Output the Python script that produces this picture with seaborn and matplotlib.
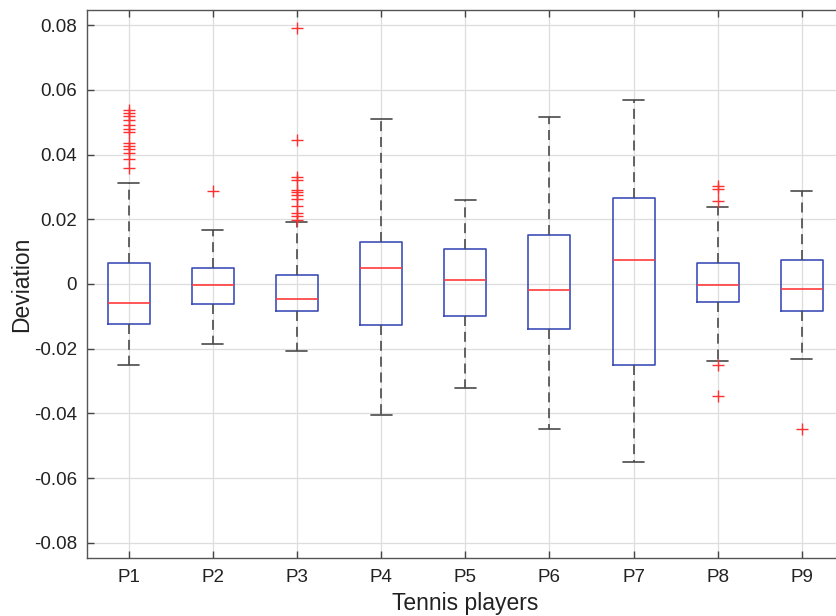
import matplotlib
matplotlib.use("Agg")
import matplotlib.pyplot as plt
import seaborn as sns
from matplotlib.ticker import FuncFormatter, FixedLocator

# ---------------- data ----------------
players = ["P1", "P2", "P3", "P4", "P5", "P6", "P7", "P8", "P9"]
q1 = [-0.0123, -0.0062, -0.0082, -0.0126, -0.0100, -0.0140, -0.0250, -0.0056, -0.0082]
median = [-0.0060, -0.0003, -0.0046, 0.0048, 0.0012, -0.0018, 0.0075, -0.0002, -0.0015]
q3 = [0.0065, 0.0050, 0.0028, 0.0129, 0.0108, 0.0152, 0.0267, 0.0065, 0.0075]
whisker_low = [-0.0251, -0.0185, -0.0208, -0.0406, -0.0322, -0.0448, -0.0551, -0.0237, -0.0232]
whisker_high = [0.0313, 0.0168, 0.0192, 0.0510, 0.0260, 0.0516, 0.0569, 0.0239, 0.0287]
outliers = [
    [0.0538, 0.0528, 0.0518, 0.0508, 0.0492, 0.0480, 0.0469, 0.0436, 0.0428,
     0.0418, 0.0405, 0.0388, 0.0359],
    [0.0288],
    [0.0790, 0.0444, 0.0332, 0.0322, 0.0291, 0.0283, 0.0276, 0.0263, 0.0240,
     0.0219, 0.0211, 0.0199],
    [],
    [],
    [],
    [],
    [0.0304, 0.0294, 0.0256, -0.0249, -0.0345],
    [-0.0447],
]
y_ticks = [-0.08, -0.06, -0.04, -0.02, 0, 0.02, 0.04, 0.06, 0.08]

# ---------------- style ----------------
sns.set_theme(style="whitegrid")
plt.rcParams["font.family"] = ["Liberation Sans", "DejaVu Sans"]
plt.rcParams["axes.unicode_minus"] = False

fig = plt.figure(figsize=(8.36, 6.16), dpi=100)
ax = fig.add_axes([0.1035, 0.0937, 0.906, 0.890])

stats = []
for i, name in enumerate(players):
    stats.append(dict(label=name, med=median[i], q1=q1[i], q3=q3[i],
                      whislo=whisker_low[i], whishi=whisker_high[i],
                      fliers=outliers[i]))

positions = list(range(1, len(players) + 1))
ax.bxp(stats, positions=positions, widths=0.5, capwidths=0.25,
       patch_artist=False, showfliers=True,
       boxprops=dict(color="#3f4fb8", linewidth=1.2),
       medianprops=dict(color="#ff3b3b", linewidth=1.2),
       whiskerprops=dict(color="#4a4a4a", linewidth=1.2, linestyle=(0, (6, 3.5))),
       capprops=dict(color="#4a4a4a", linewidth=1.2),
       flierprops=dict(marker="+", markeredgecolor="#ff3030", markersize=8,
                       markeredgewidth=1.0, linestyle="none"))

ax.set_xlim(0.5, 9.5)
ax.set_ylim(-0.0848, 0.0847)
ax.set_xticks(positions)
ax.set_xticklabels(players)
ax.yaxis.set_major_locator(FixedLocator(y_ticks))
ax.yaxis.set_major_formatter(FuncFormatter(lambda v, p: "0" if abs(v) < 1e-9 else f"{v:.2f}"))

ax.grid(True, color="#dddddd", linewidth=0.9)
ax.set_axisbelow(True)
for side in ["left", "bottom", "top", "right"]:
    ax.spines[side].set_visible(True)
    ax.spines[side].set_color("#555555")
    ax.spines[side].set_linewidth(1.0)

ax.tick_params(axis="both", direction="in", length=5, width=1.0, color="#444444",
               labelsize=13.5, labelcolor="#222222", top=True, right=True,
               left=True, bottom=True)
ax.tick_params(axis="y", pad=7)
ax.tick_params(axis="x", pad=8)

ax.set_xlabel("Tennis players", fontsize=16.5, color="#222222", labelpad=4)
ax.set_ylabel("Deviation", fontsize=16.5, color="#222222", labelpad=0.5)

fig.savefig("out.png", dpi=100)
